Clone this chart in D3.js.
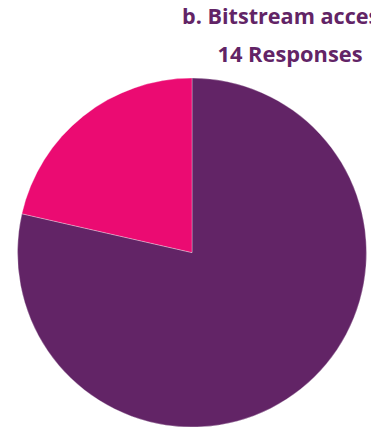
<!DOCTYPE html>
<html>
<head>
<meta charset="utf-8">
<script src="https://cdn.jsdelivr.net/npm/d3@7"></script>
<style>
  html, body { margin: 0; padding: 0; background: #ffffff; overflow: hidden; }
  svg { display: block; }
</style>
</head>
<body>
<script>
// Responses to "b. Bitstream access"
const categories = ["No", "Yes"];
const responses = [11, 3];
const sliceColors = ["#622466", "#EB0B72"];
const titleLines = ["b. Bitstream access", "14 Responses"];

const width = 371, height = 428;
const cx = 192, cy = 252.6, radius = 174.5;

const svg = d3.select("body").append("svg")
  .attr("width", width)
  .attr("height", height);

const pie = d3.pie().sort(null).value(d => d.value);
const arc = d3.arc().innerRadius(0).outerRadius(radius);
const color = d3.scaleOrdinal().domain(categories).range(sliceColors);

const slices = pie(categories.map((c, i) => ({ category: c, value: responses[i] })));

svg.append("g")
  .attr("transform", `translate(${cx},${cy})`)
  .selectAll("path")
  .data(slices)
  .join("path")
  .attr("d", arc)
  .attr("fill", d => color(d.data.category))
  .attr("stroke", "#ffffff")
  .attr("stroke-opacity", 0.6)
  .attr("stroke-width", 0.5);

// Two-line title to the right of the pie
const title = svg.append("g")
  .attr("font-family", "'Open Sans', Lato, sans-serif")
  .attr("font-weight", "bold")
  .attr("font-size", 21)
  .attr("fill", "#622466");

title.append("text")
  .attr("x", 182)
  .attr("y", 23.5)
  .attr("textLength", 208)
  .attr("lengthAdjust", "spacingAndGlyphs")
  .text(titleLines[0]);

title.append("text")
  .attr("x", 217.5)
  .attr("y", 61.7)
  .attr("textLength", 145)
  .attr("lengthAdjust", "spacingAndGlyphs")
  .text(titleLines[1]);
</script>
</body>
</html>
